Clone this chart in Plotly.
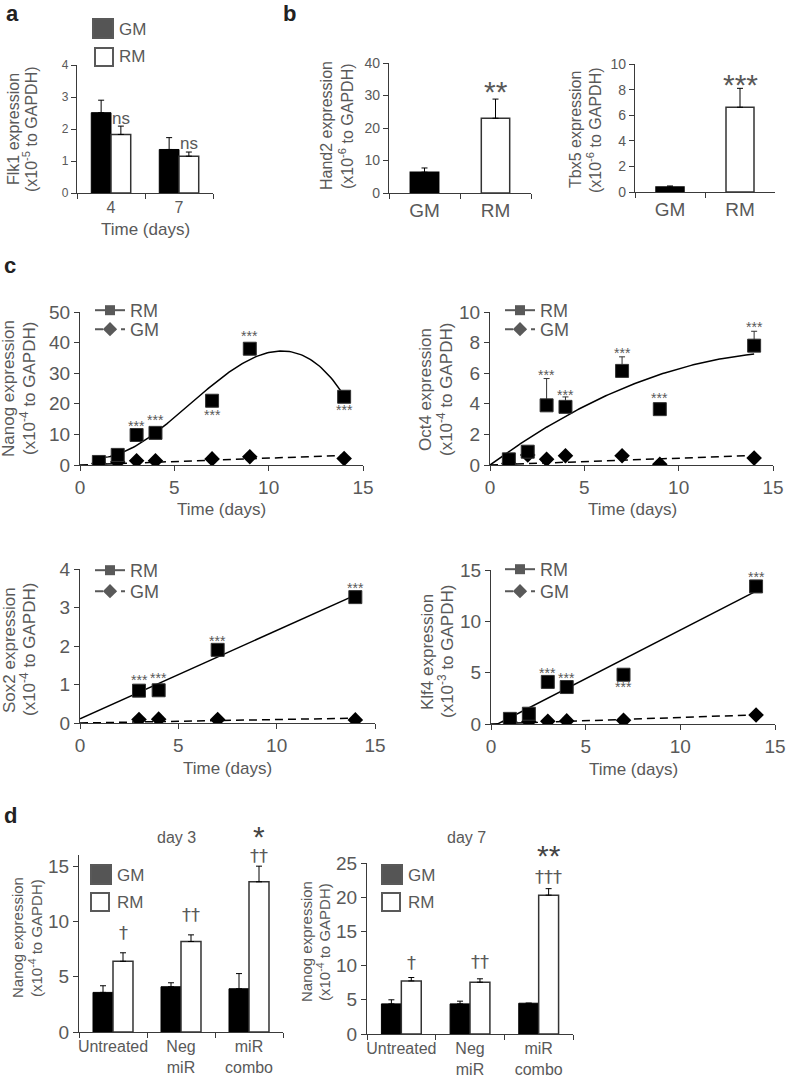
import numpy as np
import plotly.graph_objects as go

W, H = 787, 1077
TXT = "#595959"
AXL = "#3a3a3a"
FONT = "Liberation Sans, Arial, sans-serif"

# ---- panel a : Flk1 ----
flk1_days = ["4", "7"]
flk1_gm = [2.51, 1.36]
flk1_gm_err = [0.39, 0.37]
flk1_rm = [1.83, 1.15]
flk1_rm_err = [0.26, 0.13]

# ---- panel b : Hand2 / Tbx5 ----
b_media = ["GM", "RM"]
hand2 = [6.4, 23.0]
hand2_err = [1.3, 5.9]
tbx5 = [0.39, 6.62]
tbx5_err = [0.08, 1.48]

# ---- panel c : time courses ----
nanog_days = [1, 2, 3, 4, 7, 9, 14]
nanog_rm = [1.0, 3.3, 9.8, 10.5, 21.0, 38.0, 22.3]
nanog_rm_err = [0, 0, 0, 0, 1.5, 1.3, 0]
nanog_gm = [0.5, 1.0, 1.4, 1.4, 2.0, 2.7, 2.1]

oct4_days = [1, 2, 3, 4, 7, 9, 14]
oct4_rm = [0.37, 0.87, 3.9, 3.8, 6.15, 3.65, 7.8]
oct4_rm_err = [0, 0, 1.75, 0.65, 0.92, 0, 0.94]
oct4_gm = [0.1, 0.65, 0.37, 0.6, 0.6, 0.05, 0.45]

sox2_days = [3, 4, 7, 14]
sox2_rm = [0.84, 0.85, 1.9, 3.27]
sox2_rm_err = [0.1, 0, 0, 0]
sox2_gm = [0.09, 0.1, 0.09, 0.08]

klf4_days = [1, 2, 3, 4, 7, 14]
klf4_rm = [0.5, 1.0, 4.1, 3.6, 4.8, 13.4]
klf4_rm_err = [0, 0, 0, 0, 0, 0]
klf4_gm = [0.2, 0.25, 0.27, 0.3, 0.36, 0.88]

# ---- panel d : Nanog after miR treatment ----
treatments = ["Untreated", "Neg<br>miR", "miR<br>combo"]
d3_gm = [3.58, 4.09, 3.91]
d3_gm_err = [0.6, 0.36, 1.37]
d3_rm = [6.39, 8.18, 13.58]
d3_rm_err = [0.77, 0.6, 1.41]
d7_gm = [4.4, 4.4, 4.5]
d7_gm_err = [0.6, 0.4, 0]
d7_rm = [7.76, 7.57, 20.3]
d7_rm_err = [0.5, 0.5, 0.95]


def dom_x(x0, x1):
    return [x0 / W, x1 / W]


def dom_y(top, bottom):
    return [1 - bottom / H, 1 - top / H]


def up_err(err, color="black"):
    return dict(type="data", array=err, arrayminus=[0] * len(err), symmetric=False,
                color=color, thickness=1, width=3)


axis_common = dict(showline=True, linecolor=AXL, linewidth=1.3, ticks="outside",
                   ticklen=5, tickcolor=AXL, tickwidth=1.3, showgrid=False,
                   zeroline=False, fixedrange=True, automargin=False)

fig = go.Figure()
layout = dict(width=W, height=H, margin=dict(l=0, r=0, t=0, b=0, autoexpand=False),
              paper_bgcolor="white", plot_bgcolor="white", barmode="overlay",
              font=dict(family=FONT, color=TXT), showlegend=True)

# bar panels: (suffix, x px, y px, y range, dtick, y tick size, x tick size, n categories)
bar_axes = {
    "": ((77, 213), (65, 193), [0, 4], 1, 12, 16, 2),
    "2": ((389, 531), (63, 193), [0, 40], 10, 14, 19, 2),
    "3": ((635, 775), (64, 192), [0, 10], 2, 14, 19, 2),
    "8": ((79, 283), (855, 1032), [0, 16], 5, 19, 16, 3),
    "9": ((367, 573), (863, 1034), [0, 25], 5, 19, 16, 3),
}
for s, (xp, yp, yr, dt, yfs, xfs, n) in bar_axes.items():
    layout["xaxis" + s] = dict(axis_common, domain=dom_x(*xp), anchor="y" + s, type="category",
                               range=[-0.5, n - 0.5], tickson="boundaries", tickangle=0,
                               tickfont=dict(size=xfs, color=TXT))
    layout["yaxis" + s] = dict(axis_common, domain=dom_y(*yp), anchor="x" + s, range=yr,
                               tick0=0, dtick=dt, tickfont=dict(size=yfs, color=TXT))

# line panels
line_axes = {
    "4": ((80, 363), (312, 465), [0, 50], 10),
    "5": ((490, 773), (312, 465), [0, 10], 2),
    "6": ((80, 375), (569, 723), [0, 4], 1),
    "7": ((491, 775), (570, 724), [0, 15], 5),
}
for s, (xp, yp, yr, dt) in line_axes.items():
    layout["xaxis" + s] = dict(axis_common, domain=dom_x(*xp), anchor="y" + s, range=[0, 15],
                               tick0=0, dtick=5, tickfont=dict(size=19, color=TXT))
    layout["yaxis" + s] = dict(axis_common, domain=dom_y(*yp), anchor="x" + s, range=yr,
                               tick0=0, dtick=dt, tickfont=dict(size=19, color=TXT))


def grouped_bars(cats, gm, gm_err, rm, rm_err, s, w):
    fig.add_trace(go.Bar(x=cats, y=gm, width=w, offset=-w, name="GM",
                         marker=dict(color="black", line=dict(color="black", width=1)),
                         error_y=up_err(gm_err), xaxis="x" + s, yaxis="y" + s, showlegend=False))
    fig.add_trace(go.Bar(x=cats, y=rm, width=w, offset=0, name="RM",
                         marker=dict(color="white", line=dict(color="#333333", width=1.5)),
                         error_y=up_err(rm_err), xaxis="x" + s, yaxis="y" + s, showlegend=False))


grouped_bars(flk1_days, flk1_gm, flk1_gm_err, flk1_rm, flk1_rm_err, "", 0.29)
grouped_bars(treatments, d3_gm, d3_gm_err, d3_rm, d3_rm_err, "8", 0.294)
grouped_bars(treatments, d7_gm, d7_gm_err, d7_rm, d7_rm_err, "9", 0.29)

for vals, errs, s in [(hand2, hand2_err, "2"), (tbx5, tbx5_err, "3")]:
    fig.add_trace(go.Bar(x=b_media, y=vals, width=0.4,
                         marker=dict(color=["black", "white"],
                                     line=dict(color=["black", "#333333"], width=1.5)),
                         error_y=up_err(errs), xaxis="x" + s, yaxis="y" + s, showlegend=False))


def fit_origin(x, y):
    x = np.asarray(x, float)
    y = np.asarray(y, float)
    return (x * y).sum() / (x * x).sum()


def time_course(days, rm, rm_err, gm, s, lg_rm, lg_gm, rm_fit, x_start=0):
    xs = np.linspace(x_start, 14, 131)
    fig.add_trace(go.Scatter(x=xs, y=rm_fit(xs), mode="lines", line=dict(color="black", width=1.5),
                             xaxis="x" + s, yaxis="y" + s, showlegend=False, hoverinfo="skip"))
    k = fit_origin(days, gm)
    fig.add_trace(go.Scatter(x=[0, 14], y=[0, 14 * k], mode="lines",
                             line=dict(color="black", width=1.5, dash="8px,5px"),
                             xaxis="x" + s, yaxis="y" + s, showlegend=False, hoverinfo="skip"))
    fig.add_trace(go.Scatter(x=days, y=gm, mode="markers",
                             marker=dict(symbol="diamond", size=12, color="black"),
                             xaxis="x" + s, yaxis="y" + s, showlegend=False))
    fig.add_trace(go.Scatter(x=days, y=rm, mode="markers",
                             marker=dict(symbol="square", size=13, color="black",
                                         line=dict(color="#333333", width=1)),
                             error_y=up_err(rm_err, "#333333"),
                             xaxis="x" + s, yaxis="y" + s, showlegend=False))
    # legend samples
    fig.add_trace(go.Scatter(x=[None], y=[None], mode="lines+markers", name="RM",
                             line=dict(color=TXT, width=2),
                             marker=dict(symbol="square", size=10, color=TXT),
                             xaxis="x" + s, yaxis="y" + s, legend=lg_rm))
    fig.add_trace(go.Scatter(x=[None], y=[None], mode="lines+markers", name="GM",
                             line=dict(color=TXT, width=2, dash="8px,5px"),
                             marker=dict(symbol="diamond", size=11, color=TXT),
                             xaxis="x" + s, yaxis="y" + s, legend=lg_gm))


nanog_poly = np.polyfit(nanog_days, nanog_rm, 3)
time_course(nanog_days, nanog_rm, nanog_rm_err, nanog_gm, "4", "legend", "legend2",
            lambda x: np.polyval(nanog_poly, x), x_start=1)

ox = np.asarray(oct4_days, float)
oct4_coef = np.linalg.lstsq(np.column_stack([ox, ox ** 2]), np.asarray(oct4_rm), rcond=None)[0]
time_course(oct4_days, oct4_rm, oct4_rm_err, oct4_gm, "5", "legend3", "legend4",
            lambda x: oct4_coef[0] * x + oct4_coef[1] * x ** 2)

sox2_poly = np.polyfit(sox2_days, sox2_rm, 1)
time_course(sox2_days, sox2_rm, sox2_rm_err, sox2_gm, "6", "legend5", "legend6",
            lambda x: np.polyval(sox2_poly, x))

klf4_poly = np.polyfit(klf4_days, klf4_rm, 1)
time_course(klf4_days, klf4_rm, klf4_rm_err, klf4_gm, "7", "legend7", "legend8",
            lambda x: np.polyval(klf4_poly, x))


def legend_at(px, py, size=18):
    return dict(x=px / W, y=1 - py / H, xanchor="left", yanchor="top", bgcolor="rgba(0,0,0,0)",
                font=dict(size=size, color=TXT), itemwidth=30)


legend_spots = {"legend": (90, 292), "legend2": (90, 311), "legend3": (500, 292),
                "legend4": (500, 311), "legend5": (90, 552), "legend6": (90, 573),
                "legend7": (500, 551), "legend8": (500, 573)}
for name, (px, py) in legend_spots.items():
    layout[name] = legend_at(px, py)

# swatch legends of the bar panels
shapes = []
ann = []


def text_px(px, py, text, size, color=TXT, angle=0, bold=False, xanchor="center"):
    if bold:
        text = "<b>" + text + "</b>"
    ann.append(dict(x=px / W, y=1 - py / H, xref="paper", yref="paper", text=text,
                    showarrow=False, textangle=angle, xanchor=xanchor, yanchor="middle",
                    font=dict(size=size, color=color)))


def swatch(x0, y0, x1, y1, fill):
    shapes.append(dict(type="rect", xref="paper", yref="paper", x0=x0 / W, x1=x1 / W,
                       y0=1 - y1 / H, y1=1 - y0 / H, fillcolor=fill,
                       line=dict(color=TXT, width=2)))


for gx, gy, rx, ry, tx in [(93, 19, 95, 48, 117), (91, 865, 91, 893, 115), (382, 865, 382, 893, 406)]:
    swatch(gx, gy, gx + 20, gy + 19, "#555555")
    swatch(rx, ry, rx + 18, ry + 18, "white")
    text_px(tx, gy + 10, "GM", 17, xanchor="left")
    text_px(tx, ry + 9, "RM", 17, xanchor="left")


def text_data(x, y, s, text, size, xshift=0, yshift=0, color=TXT, family=None):
    # y in data units, placed through the axis domain so marks above the range still show
    ymax = layout["yaxis" + s]["range"][1]
    font = dict(size=size, color=color)
    if family:
        font["family"] = family
    ann.append(dict(x=x, y=y / ymax, xref="x" + s, yref="y" + s + " domain", text=text,
                    showarrow=False, xanchor="center", yanchor="middle", xshift=xshift,
                    yshift=yshift, font=font))


# panel letters
for lab, px, py in [("a", 12, 14), ("b", 289, 14), ("c", 10, 265), ("d", 10, 815)]:
    text_px(px, py, lab, 22, color="#222222", bold=True)

# y titles (two lines each)
ytitles = [
    ("Flk1 expression", "(x10<sup>-5</sup> to GAPDH)", 14, 30, 129, 16),
    ("Hand2 expression", "(x10<sup>-6</sup> to GAPDH)", 326, 346, 126, 16),
    ("Tbx5 expression", "(x10<sup>-6</sup> to GAPDH)", 575, 594, 130, 16),
    ("Nanog expression", "(x10<sup>-4</sup> to GAPDH)", 9, 28, 389, 17),
    ("Oct4 expression", "(x10<sup>-4</sup> to GAPDH)", 426, 445, 390, 17),
    ("Sox2 expression", "(x10<sup>-4</sup> to GAPDH)", 9, 28, 650, 17),
    ("Klf4 expression", "(x10<sup>-3</sup> to GAPDH)", 427, 446, 652, 17),
    ("Nanog expression", "(x10<sup>-4</sup> to GAPDH)", 17, 35, 938, 15),
    ("Nanog expression", "(x10<sup>-4</sup> to GAPDH)", 306, 323, 942, 15),
]
for l1, l2, x1, x2, cy, fs in ytitles:
    text_px(x1, cy, l1, fs, angle=-90)
    text_px(x2, cy, l2, fs, angle=-90)

# x titles
for px, py in [(145, 230), (221, 510), (632, 509), (227, 768), (633, 769)]:
    text_px(px, py, "Time (days)", 17)
text_px(176, 838, "day 3", 16)
text_px(466, 838, "day 7", 16)

# significance marks (x given as category index)
text_data(0, 2.33, "", "ns", 17, xshift=10)
text_data(1, 1.55, "", "ns", 17, xshift=10)
text_data(1, 32.6, "2", "**", 30, yshift=-4)
text_data(1, 8.9, "3", "***", 30, yshift=-6)

stars = {
    "4": [(3, 13.8), (4, 15.8), (7, 17.4), (9, 43.0), (14, 19.0)],
    "5": [(3, 6.1), (4, 4.8), (7, 7.5), (9, 4.6), (14, 9.2)],
    "6": [(3, 1.2), (4, 1.25), (7, 2.2), (14, 3.58)],
    "7": [(3, 5.3), (4, 4.8), (7, 3.9), (14, 14.6)],
}
for s, pts in stars.items():
    for x, y in pts:
        text_data(x, y, s, "***", 14, yshift=-3)

DAG = "DejaVu Sans"
for i, (y, t) in enumerate([(9.0, "†"), (10.65, "††"), (16.0, "††")]):
    text_data(i, y, "8", t, 18, xshift=10, family=DAG)
text_data(2, 17.9, "8", "*", 30, xshift=10, yshift=-3, color="#444444")

for i, (y, t) in enumerate([(10.4, "†"), (10.6, "††"), (23.0, "†††")]):
    text_data(i, y, "9", t, 18, xshift=10, family=DAG)
text_data(2, 26.5, "9", "**", 30, xshift=10, yshift=-3, color="#444444")

layout["annotations"] = ann
layout["shapes"] = shapes
fig.update_layout(**layout)
# the page body keeps its default 8px margin otherwise
fig.write_html("out.html", config={"displayModeBar": False},
               post_script="document.body.style.margin = '0px';")
